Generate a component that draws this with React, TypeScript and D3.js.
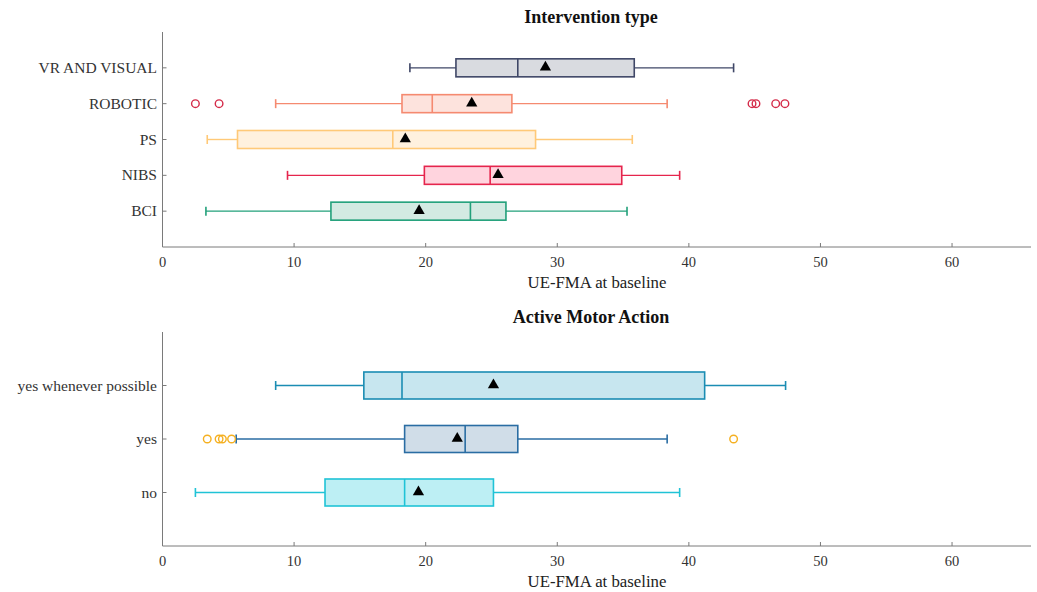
import React, { useEffect, useRef } from "react";
import * as d3 from "d3";

// Intervention type panel (top)
const interventionTypes = ["VR AND VISUAL", "ROBOTIC", "PS", "NIBS", "BCI"];
const interventionMin = [18.8, 8.6, 3.4, 9.5, 3.3];
const interventionQ1 = [22.3, 18.2, 5.7, 19.9, 12.8];
const interventionMedian = [27.0, 20.5, 17.5, 24.9, 23.4];
const interventionQ3 = [35.85, 26.55, 28.35, 34.9, 26.1];
const interventionMax = [43.4, 38.35, 35.7, 39.3, 35.3];
const interventionMean = [29.1, 23.5, 18.45, 25.5, 19.5];
const interventionOutliers = [[], [2.5, 4.3, 44.8, 45.1, 46.6, 47.3], [], [], []];

// Active motor action panel (bottom)
const motorActions = ["yes whenever possible", "yes", "no"];
const motorMin = [8.6, 5.6, 2.5];
const motorQ1 = [15.3, 18.4, 12.35];
const motorMedian = [18.2, 23.0, 18.4];
const motorQ3 = [41.2, 27.0, 25.15];
const motorMax = [47.35, 38.35, 39.3];
const motorMean = [25.15, 22.4, 19.45];
const motorOutliers = [[], [3.4, 4.3, 4.55, 5.25, 43.4], []];

const xTicks = [0, 10, 20, 30, 40, 50, 60];

const FONT = "'Liberation Serif', 'Times New Roman', serif";

interface Panel {
	title: string;
	cats: string[];
	min: number[];
	q1: number[];
	median: number[];
	q3: number[];
	max: number[];
	mean: number[];
	outliers: number[][];
	strokes: string[];
	fills: string[];
	outlierColor: string;
	top: number;
	bottom: number;
	boxH: number;
}

function drawPanel(svg: d3.Selection<SVGSVGElement, unknown, null, undefined>, p: Panel) {
	const x = d3.scaleLinear().domain([0, 66]).range([162.5, 1031]);
	const y = d3.scaleLinear().domain([0, p.cats.length + 1]).range([p.top, p.bottom]);
	const g = svg.append("g");

	// title
	g.append("text")
		.attr("x", 591)
		.attr("y", p.top - 9)
		.attr("text-anchor", "middle")
		.attr("font-family", FONT)
		.attr("font-weight", "bold")
		.attr("font-size", 18)
		.attr("fill", "#111")
		.text(p.title);

	// axes
	g.append("path")
		.attr("d", `M${x(0)},${p.top}V${p.bottom}H${x(66)}`)
		.attr("fill", "none")
		.attr("stroke", "#7a7a7a")
		.attr("stroke-width", 1);
	g.selectAll("xtick")
		.data(xTicks)
		.enter()
		.append("line")
		.attr("x1", (d) => x(d))
		.attr("x2", (d) => x(d))
		.attr("y1", p.bottom)
		.attr("y2", p.bottom - 4)
		.attr("stroke", "#7a7a7a");
	g.selectAll("xlab")
		.data(xTicks)
		.enter()
		.append("text")
		.attr("x", (d) => x(d))
		.attr("y", p.bottom + 20)
		.attr("text-anchor", "middle")
		.attr("font-family", FONT)
		.attr("font-size", 14.5)
		.attr("fill", "#333")
		.text((d) => d);
	g.append("text")
		.attr("x", 597)
		.attr("y", p.bottom + 41)
		.attr("text-anchor", "middle")
		.attr("font-family", FONT)
		.attr("font-size", 16.8)
		.attr("fill", "#222")
		.text("UE-FMA at baseline");

	p.cats.forEach((c, i) => {
		const cy = y(i + 1);
		const h = p.boxH;
		// y tick + label
		g.append("line").attr("x1", x(0)).attr("x2", x(0) + 4).attr("y1", cy).attr("y2", cy).attr("stroke", "#7a7a7a");
		g.append("text")
			.attr("x", 157)
			.attr("y", cy + 5)
			.attr("text-anchor", "end")
			.attr("font-family", FONT)
			.attr("font-size", 15.5)
			.attr("fill", "#333")
			.text(c);

		const stroke = p.strokes[i];
		// whiskers
		g.append("line").attr("x1", x(p.min[i])).attr("x2", x(p.q1[i])).attr("y1", cy).attr("y2", cy).attr("stroke", stroke).attr("stroke-width", 1.4);
		g.append("line").attr("x1", x(p.q3[i])).attr("x2", x(p.max[i])).attr("y1", cy).attr("y2", cy).attr("stroke", stroke).attr("stroke-width", 1.4);
		// caps
		[p.min[i], p.max[i]].forEach((v) => {
			g.append("line").attr("x1", x(v)).attr("x2", x(v)).attr("y1", cy - 4.5).attr("y2", cy + 4.5).attr("stroke", stroke).attr("stroke-width", 1.6);
		});
		// box
		g.append("rect")
			.attr("x", x(p.q1[i]))
			.attr("y", cy - h / 2)
			.attr("width", x(p.q3[i]) - x(p.q1[i]))
			.attr("height", h)
			.attr("fill", p.fills[i])
			.attr("stroke", stroke)
			.attr("stroke-width", 1.6);
		// median
		g.append("line").attr("x1", x(p.median[i])).attr("x2", x(p.median[i])).attr("y1", cy - h / 2).attr("y2", cy + h / 2).attr("stroke", stroke).attr("stroke-width", 1.6);
		// outliers
		g.selectAll(`out${i}`)
			.data(p.outliers[i])
			.enter()
			.append("circle")
			.attr("cx", (d) => x(d))
			.attr("cy", cy)
			.attr("r", 3.8)
			.attr("fill", "none")
			.attr("stroke", p.outlierColor)
			.attr("stroke-width", 1.4);
		// mean
		g.append("path")
			.attr("d", d3.symbol(d3.symbolTriangle, 55)())
			.attr("transform", `translate(${x(p.mean[i])},${cy - 0.5})`)
			.attr("fill", "#000");
	});
}

export default function App() {
	const ref = useRef<SVGSVGElement>(null);
	useEffect(() => {
		if (!ref.current) return;
		const svg = d3.select(ref.current);
		svg.selectAll("*").remove();
		drawPanel(svg, {
			title: "Intervention type",
			cats: interventionTypes,
			min: interventionMin,
			q1: interventionQ1,
			median: interventionMedian,
			q3: interventionQ3,
			max: interventionMax,
			mean: interventionMean,
			outliers: interventionOutliers,
			strokes: ["#3f4767", "#f58a70", "#ffc978", "#e5254d", "#22a07a"],
			fills: ["#d9dbe0", "#fde3dd", "#fff1de", "#ffd4de", "#d3eae2"],
			outlierColor: "#d42a48",
			top: 32,
			bottom: 247,
			boxH: 18,
		});
		drawPanel(svg, {
			title: "Active Motor Action",
			cats: motorActions,
			min: motorMin,
			q1: motorQ1,
			median: motorMedian,
			q3: motorQ3,
			max: motorMax,
			mean: motorMean,
			outliers: motorOutliers,
			strokes: ["#1b8db3", "#2a6da3", "#20c3d6"],
			fills: ["#c7e6ef", "#d0dde8", "#bdeff4"],
			outlierColor: "#f5b021",
			top: 332,
			bottom: 546,
			boxH: 27,
		});
	}, []);
	return (
		<div style={{ position: "absolute", left: 0, top: 0 }}>
			<svg ref={ref} width={1037} height={592} style={{ display: "block", background: "#fff" }} />
		</div>
	);
}
